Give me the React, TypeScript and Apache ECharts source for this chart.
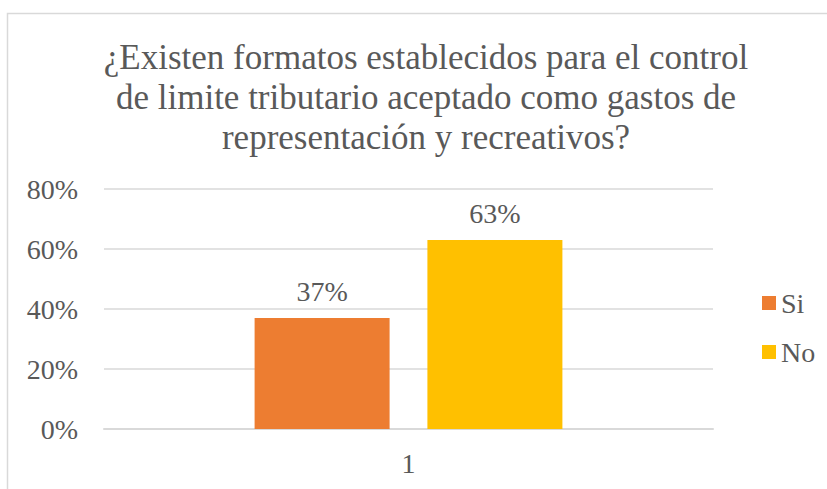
import React, { useEffect, useRef } from "react";
import * as echarts from "echarts";

const categories = ["1"];
const seriesNames = ["Si", "No"];
const siValues = [0.37];
const noValues = [0.63];
const colors = ["#ED7D31", "#FFC000"];
const titleText =
  "¿Existen formatos establecidos para el control\nde limite tributario aceptado como gastos de\nrepresentación y recreativos?";

const FONT = "Liberation Serif";
const TXT = "#595959";

export default function App() {
  const ref = useRef<HTMLDivElement>(null);
  useEffect(() => {
    if (!ref.current) return;
    const chart = echarts.init(ref.current, undefined, { renderer: "svg" });
    const pct = (v: number) => Math.round(v * 100) + "%";
    const labelStyle = {
      show: true,
      position: "top",
      distance: 13,
      fontFamily: FONT,
      fontSize: 28,
      color: TXT,
      formatter: (p: any) => pct(p.value),
    };
    chart.setOption({
      animation: false,
      backgroundColor: "#ffffff",
      title: {
        text: titleText,
        left: 421,
        textAlign: "center",
        top: 32,
        textStyle: {
          fontFamily: FONT,
          fontSize: 35,
          fontWeight: "normal",
          color: TXT,
          lineHeight: 40,
        },
      },
      graphic: [
        {
          type: "rect",
          shape: { x: 7.5, y: 13.5, width: 840, height: 520 },
          style: { fill: "none", stroke: "#d9d9d9", lineWidth: 1.5 },
          silent: true,
        },
      ],
      legend: {
        orient: "vertical",
        left: 757,
        top: 284,
        itemWidth: 14,
        itemHeight: 14,
        itemGap: 21,
        icon: "rect",
        textStyle: { fontFamily: FONT, fontSize: 28, lineHeight: 28, color: TXT },
        data: seriesNames,
      },
      grid: { left: 104, right: 114, top: 189, bottom: 60, containLabel: false },
      xAxis: {
        type: "category",
        data: categories,
        axisLine: { show: true, lineStyle: { color: "#d9d9d9", width: 2 } },
        axisTick: { show: false },
        axisLabel: { fontFamily: FONT, fontSize: 28, color: TXT, margin: 20 },
      },
      yAxis: {
        type: "value",
        min: 0,
        max: 0.8,
        interval: 0.2,
        axisLine: { show: false },
        axisTick: { show: false },
        splitLine: { lineStyle: { color: "#d9d9d9", width: 1.5 } },
        axisLabel: {
          fontFamily: FONT,
          fontSize: 28,
          color: TXT,
          margin: 26,
          formatter: (v: number) => pct(v),
        },
      },
      series: [
        {
          name: seriesNames[0],
          type: "bar",
          data: siValues,
          barWidth: 135,
          barGap: "28%",
          itemStyle: { color: colors[0] },
          label: labelStyle,
        },
        {
          name: seriesNames[1],
          type: "bar",
          data: noValues,
          barWidth: 135,
          barGap: "28%",
          itemStyle: { color: colors[1] },
          label: labelStyle,
        },
      ],
    });
    return () => chart.dispose();
  }, []);
  return (
    <div
      ref={ref}
      style={{ position: "absolute", left: 0, top: 0, width: 827, height: 489 }}
    />
  );
}
